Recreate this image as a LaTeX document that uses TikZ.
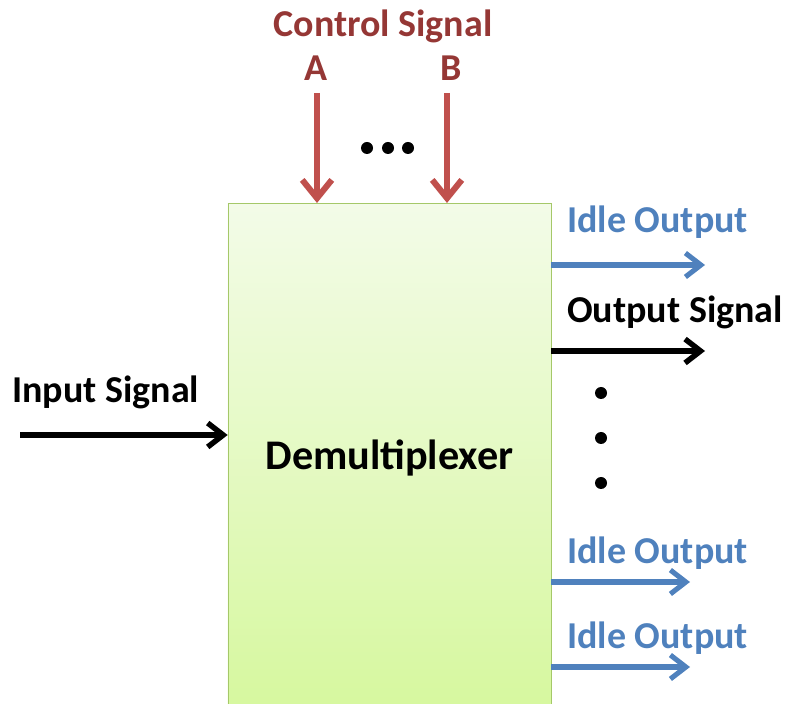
\documentclass[tikz,border=0pt]{standalone}
\usepackage{fontspec}
\setmainfont{Carlito}
\usetikzlibrary{arrows.meta,positioning}
\definecolor{ctrltext}{RGB}{149,55,53}
\definecolor{ctrlred}{RGB}{192,80,77}
\definecolor{idleblue}{RGB}{79,129,189}
\definecolor{boxtop}{RGB}{243,251,232}
\definecolor{boxbottom}{RGB}{214,248,158}
\definecolor{boxedge}{RGB}{165,200,105}

\tikzset{
  sigtext/.style={font=\fontsize{27}{32}\selectfont\bfseries, inner sep=0pt},
  ctrlarrow/.style={draw=ctrlred, line width=4.3pt, -{Straight Barb[length=13pt,width=21pt]}},
  idlearrow/.style={draw=idleblue, line width=3.6pt, -{Straight Barb[length=11pt,width=17pt]}},
  sigarrow/.style={draw=black, line width=3.9pt, -{Straight Barb[length=11pt,width=17pt]}},
  dot/.style={fill=black}
}

\begin{document}
\begin{tikzpicture}[x=0.025cm, y=0.025cm]
    \useasboundingbox (0,0) rectangle (787,703);

    % demultiplexer block
    \node[draw=boxedge, thin, top color=boxtop, bottom color=boxbottom,
          minimum width=8.075cm, minimum height=12.75cm, anchor=north,
          font=\fontsize{30}{36}\selectfont\bfseries] (demux) at (389.5,500) {Demultiplexer};

    % control signals
    \node[sigtext, text=ctrltext] (ctrl) at (383,666) [anchor=base] {Control Signal};
    \node[sigtext, text=ctrltext] (sela) at (316,622) [anchor=base] {A};
    \node[sigtext, text=ctrltext] (selb) at (451,622) [anchor=base] {B};
    \coordinate (a0) at (317,610);
    \coordinate (b0) at (447,610);
    \draw[ctrlarrow] (a0) -- (a0 |- demux.north);
    \draw[ctrlarrow] (b0) -- (b0 |- demux.north);
    \foreach \x in {367,388,408}
        \fill[dot] (\x,555) circle (6);

    % input
    \node[sigtext, anchor=base west] (insig) at (12,300) {Input Signal};
    \coordinate (in0) at (20,268);
    \draw[sigarrow] (in0) -- (in0 -| demux.west);

    % outputs
    \node[sigtext, text=idleblue, anchor=base west] (idle1) at (567,470) {Idle Output};
    \node[sigtext, anchor=base west] (outsig) at (567,380) {Output Signal};
    \node[sigtext, text=idleblue, anchor=base west] (idle2) at (567,140) {Idle Output};
    \node[sigtext, text=idleblue, anchor=base west] (idle3) at (567,55) {Idle Output};
    \coordinate (o1) at (705,438);
    \coordinate (o2) at (705,352);
    \coordinate (o3) at (690,121);
    \coordinate (o4) at (690,36);
    \draw[idlearrow] (o1 -| demux.east) -- (o1);
    \draw[sigarrow]  (o2 -| demux.east) -- (o2);
    \draw[idlearrow] (o3 -| demux.east) -- (o3);
    \draw[idlearrow] (o4 -| demux.east) -- (o4);
    \foreach \y in {310,265,220}
        \fill[dot] (601,\y) circle (6);
\end{tikzpicture}
\end{document}
